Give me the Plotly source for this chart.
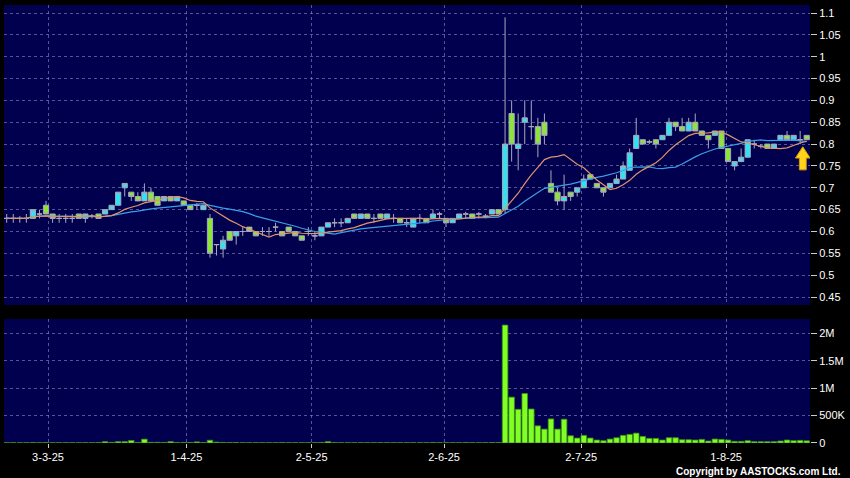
import plotly.graph_objects as go
import pandas as pd

# ---------------- data ----------------
tick_labels = ["3-3-25", "1-4-25", "2-5-25", "2-6-25", "2-7-25", "1-8-25"]
tick_pos = [6.3, 27.4, 46.5, 66.7, 87.6, 109.7]   # position in trading-day index

opens = [0.63, 0.63, 0.63, 0.63, 0.63, 0.64, 0.66, 0.64, 0.63, 0.63,
         0.63, 0.64, 0.63, 0.635, 0.64, 0.64, 0.65, 0.66, 0.70, 0.69,
         0.68, 0.67, 0.69, 0.68, 0.67, 0.68, 0.67, 0.67, 0.66, 0.66,
         0.65, 0.63, 0.57, 0.56, 0.60, 0.59, 0.60, 0.61, 0.60, 0.60,
         0.60, 0.61, 0.60, 0.61, 0.60, 0.59, 0.60, 0.59, 0.59, 0.61,
         0.62, 0.62, 0.62, 0.64, 0.63, 0.64, 0.63, 0.64, 0.63, 0.63,
         0.63, 0.62, 0.61, 0.63, 0.63, 0.63, 0.64, 0.63, 0.62, 0.63,
         0.64, 0.64, 0.64, 0.635, 0.64, 0.65, 0.65, 0.87, 0.79, 0.85,
         0.84, 0.84, 0.85, 0.71, 0.69, 0.67, 0.69, 0.69, 0.70, 0.73,
         0.71, 0.70, 0.70, 0.71, 0.72, 0.74, 0.79, 0.81, 0.805, 0.81,
         0.81, 0.82, 0.85, 0.84, 0.83, 0.85, 0.83, 0.82, 0.82, 0.83,
         0.79, 0.75, 0.76, 0.77, 0.80, 0.795, 0.80, 0.79, 0.81, 0.82,
         0.81, 0.81, 0.82]
highs = [0.64, 0.64, 0.635, 0.64, 0.65, 0.65, 0.67, 0.64, 0.64, 0.64,
         0.64, 0.64, 0.64, 0.64, 0.64, 0.65, 0.66, 0.69, 0.71, 0.69,
         0.69, 0.71, 0.70, 0.68, 0.68, 0.68, 0.68, 0.67, 0.66, 0.665,
         0.66, 0.64, 0.57, 0.59, 0.60, 0.60, 0.61, 0.61, 0.60, 0.61,
         0.61, 0.62, 0.60, 0.61, 0.60, 0.59, 0.61, 0.60, 0.61, 0.62,
         0.63, 0.63, 0.63, 0.64, 0.64, 0.64, 0.64, 0.64, 0.64, 0.64,
         0.63, 0.63, 0.63, 0.64, 0.63, 0.65, 0.645, 0.63, 0.63, 0.64,
         0.645, 0.64, 0.645, 0.64, 0.65, 0.65, 1.09, 0.90, 0.87, 0.90,
         0.90, 0.86, 0.87, 0.74, 0.70, 0.73, 0.69, 0.70, 0.73, 0.73,
         0.71, 0.70, 0.71, 0.73, 0.76, 0.79, 0.86, 0.81, 0.81, 0.81,
         0.82, 0.86, 0.85, 0.86, 0.86, 0.87, 0.83, 0.82, 0.83, 0.83,
         0.79, 0.76, 0.79, 0.81, 0.81, 0.80, 0.80, 0.80, 0.82, 0.83,
         0.82, 0.83, 0.82]
lows = [0.62, 0.62, 0.62, 0.62, 0.63, 0.63, 0.64, 0.62, 0.62, 0.62,
        0.62, 0.63, 0.62, 0.63, 0.63, 0.64, 0.65, 0.66, 0.68, 0.67,
        0.67, 0.67, 0.67, 0.66, 0.67, 0.67, 0.67, 0.66, 0.65, 0.65,
        0.65, 0.54, 0.545, 0.54, 0.58, 0.57, 0.59, 0.60, 0.59, 0.59,
        0.59, 0.60, 0.59, 0.60, 0.59, 0.58, 0.59, 0.58, 0.59, 0.61,
        0.61, 0.61, 0.62, 0.63, 0.63, 0.63, 0.62, 0.63, 0.63, 0.62,
        0.62, 0.61, 0.61, 0.62, 0.62, 0.63, 0.63, 0.61, 0.62, 0.63,
        0.63, 0.63, 0.63, 0.63, 0.64, 0.64, 0.64, 0.76, 0.74, 0.80,
        0.81, 0.77, 0.80, 0.69, 0.66, 0.65, 0.67, 0.68, 0.70, 0.72,
        0.70, 0.68, 0.70, 0.71, 0.72, 0.74, 0.79, 0.80, 0.80, 0.79,
        0.81, 0.82, 0.83, 0.83, 0.83, 0.83, 0.82, 0.79, 0.82, 0.79,
        0.76, 0.74, 0.76, 0.77, 0.79, 0.79, 0.79, 0.79, 0.81, 0.81,
        0.81, 0.80, 0.81]
closes = [0.63, 0.63, 0.63, 0.63, 0.65, 0.64, 0.64, 0.63, 0.63, 0.63,
          0.63, 0.63, 0.64, 0.635, 0.63, 0.65, 0.66, 0.69, 0.71, 0.68,
          0.67, 0.69, 0.67, 0.66, 0.68, 0.67, 0.68, 0.66, 0.65, 0.66,
          0.66, 0.55, 0.57, 0.58, 0.58, 0.60, 0.60, 0.60, 0.59, 0.60,
          0.60, 0.61, 0.59, 0.60, 0.59, 0.58, 0.60, 0.59, 0.61, 0.62,
          0.62, 0.62, 0.63, 0.63, 0.64, 0.63, 0.63, 0.63, 0.64, 0.63,
          0.62, 0.62, 0.63, 0.63, 0.62, 0.64, 0.64, 0.62, 0.63, 0.64,
          0.64, 0.63, 0.64, 0.635, 0.65, 0.64, 0.80, 0.80, 0.80, 0.86,
          0.84, 0.80, 0.82, 0.69, 0.67, 0.68, 0.68, 0.70, 0.72, 0.72,
          0.70, 0.69, 0.71, 0.72, 0.75, 0.78, 0.82, 0.80, 0.805, 0.80,
          0.82, 0.85, 0.84, 0.83, 0.85, 0.83, 0.82, 0.81, 0.83, 0.79,
          0.76, 0.76, 0.77, 0.81, 0.80, 0.795, 0.79, 0.80, 0.82, 0.81,
          0.82, 0.81, 0.81]
volumes_k = [5, 5, 5, 5, 8, 5, 8, 5, 5, 5,
             5, 5, 5, 5, 8, 25, 12, 25, 25, 45,
             10, 70, 12, 12, 10, 25, 8, 8, 10, 20,
             8, 50, 15, 10, 8, 8, 5, 5, 5, 5,
             5, 5, 8, 5, 5, 5, 5, 5, 10, 25,
             8, 5, 5, 5, 5, 5, 5, 5, 5, 5,
             5, 5, 5, 5, 5, 8, 5, 5, 5, 5,
             8, 5, 5, 5, 8, 8, 2150, 836, 614, 902,
             620, 313, 253, 439, 253, 434, 132, 90, 139, 90,
             54, 42, 72, 96, 139, 157, 180, 120, 84, 84,
             54, 96, 96, 60, 60, 54, 66, 36, 72, 66,
             54, 30, 30, 42, 24, 24, 24, 24, 36, 54,
             42, 48, 40]

idx = list(range(len(closes)))
volumes = [v * 1000 for v in volumes_k]
ma10 = pd.Series(closes).rolling(10, min_periods=1).mean()
ma20 = pd.Series(closes).rolling(20, min_periods=1).mean()

price_ticks = [0.45, 0.5, 0.55, 0.6, 0.65, 0.7, 0.75, 0.8, 0.85, 0.9, 0.95, 1.0, 1.05, 1.1]
price_tick_text = ["0.45", "0.5", "0.55", "0.6", "0.65", "0.7", "0.75", "0.8",
                   "0.85", "0.9", "0.95", "1", "1.05", "1.1"]
vol_ticks = [0, 500000, 1000000, 1500000, 2000000]
vol_tick_text = ["0", "500K", "1M", "1.5M", "2M"]

# ---------------- styling ----------------
CYAN = "#2fe3f2"
GREEN = "#8ee53a"
WICK = "#a8a8bc"
NAVY = "#00004e"
GRID = "rgba(140,140,200,0.6)"
DASH = "3px,3px"
FONT = "Liberation Sans, Arial, sans-serif"

fig = go.Figure()

fig.add_trace(go.Candlestick(
    x=idx, open=opens, high=highs, low=lows, close=closes,
    increasing=dict(fillcolor=CYAN, line=dict(color=WICK, width=1)),
    decreasing=dict(fillcolor=GREEN, line=dict(color=WICK, width=1)),
    whiskerwidth=0, xaxis="x", yaxis="y", showlegend=False, hoverinfo="skip"))

fig.add_trace(go.Scatter(x=idx, y=ma20, mode="lines",
                         line=dict(color="#3b9ee6", width=1.2),
                         xaxis="x", yaxis="y", showlegend=False, hoverinfo="skip"))
fig.add_trace(go.Scatter(x=idx, y=ma10, mode="lines",
                         line=dict(color="#e0946a", width=1.2),
                         xaxis="x", yaxis="y", showlegend=False, hoverinfo="skip"))

fig.add_trace(go.Bar(x=idx, y=volumes, width=0.85,
                     marker=dict(color="#80ff24", line=dict(color="#3d8f12", width=0.8)),
                     xaxis="x2", yaxis="y2", showlegend=False, hoverinfo="skip"))

# yellow marker arrow under the latest candle
n = len(closes)
ax0 = n - 1.6
fig.add_shape(type="path", xref="x", yref="y",
              path=(f"M {ax0:.2f},0.794 L {ax0+1.12:.2f},0.768 L {ax0+0.52:.2f},0.768 "
                    f"L {ax0+0.52:.2f},0.741 L {ax0-0.52:.2f},0.741 L {ax0-0.52:.2f},0.768 "
                    f"L {ax0-1.12:.2f},0.768 Z"),
              fillcolor="#ffd21c", line=dict(color="#d99a00", width=1))

xr = [-0.41, n - 0.5]
common_x = dict(range=xr, tickmode="array", tickvals=tick_pos, showgrid=True,
                gridcolor=GRID, griddash=DASH, gridwidth=1, zeroline=False,
                showline=False, fixedrange=True)

fig.update_layout(
    width=850, height=478,
    margin=dict(l=4, r=37, t=5, b=35),
    paper_bgcolor="black", plot_bgcolor=NAVY,
    font=dict(family=FONT, size=11, color="white"),
    bargap=0, boxgap=0.1, boxgroupgap=0.12,
    xaxis=dict(**common_x, anchor="y", showticklabels=False, ticks="",
               rangeslider=dict(visible=False)),
    xaxis2=dict(**common_x, anchor="y2", matches="x", ticktext=tick_labels,
                ticks="outside", ticklen=4, tickcolor="#cccccc",
                tickfont=dict(family=FONT, size=11, color="white")),
    yaxis=dict(domain=[0.315, 1.0], range=[0.4317, 1.1183], side="right",
               tickmode="array", tickvals=price_ticks, ticktext=price_tick_text,
               ticks="outside", ticklen=6, tickcolor="#cccccc",
               showgrid=True, gridcolor=GRID, griddash=DASH, zeroline=False,
               showline=False, fixedrange=True,
               tickfont=dict(family=FONT, size=11, color="white")),
    yaxis2=dict(domain=[0.0, 0.283], range=[0, 2260000], side="right",
                tickmode="array", tickvals=vol_ticks, ticktext=vol_tick_text,
                ticks="outside", ticklen=6, tickcolor="#cccccc",
                showgrid=True, gridcolor=GRID, griddash=DASH, zeroline=False,
                showline=False, fixedrange=True,
                tickfont=dict(family=FONT, size=11, color="white")),
    annotations=[dict(text="Copyright by AASTOCKS.com Ltd.", xref="paper", yref="paper",
                      x=1.0408, y=-0.064, xanchor="right", yanchor="middle",
                      showarrow=False,
                      font=dict(family=FONT, size=10, color="white", weight="bold"))],
)

fig.write_html("out.html",
               config={"displayModeBar": False, "staticPlot": True},
               post_script="document.body.style.margin='0px';document.body.style.background='black';")
